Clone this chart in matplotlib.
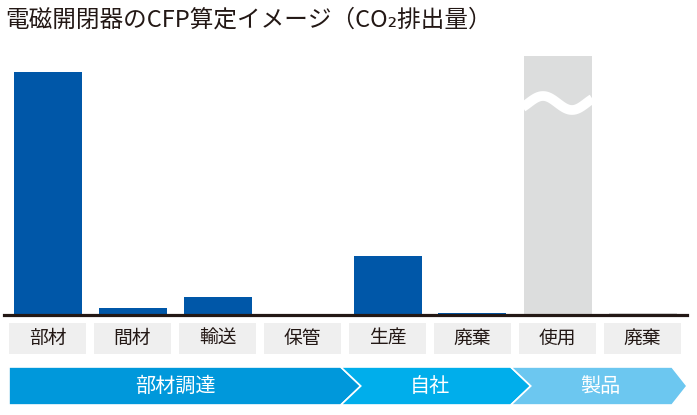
import matplotlib
matplotlib.use("Agg")
import matplotlib.pyplot as plt
from matplotlib.patches import Rectangle, Polygon
import numpy as np

plt.rcParams['font.family'] = ['Noto Sans CJK JP', 'DejaVu Sans']

# data (部材 = 100)
stages = ["部材", "間材", "輸送", "保管", "生産", "廃棄", "使用", "廃棄"]
values = [100, 2.9, 7.4, 0, 24.3, 0.9, 400, 0.9]   # 使用 is off the scale (broken bar)
bar_colors = ["#0057a8"] * 6 + ["#dcdddd", "#dcdddd"]
groups = ["部材調達", "自社", "製品"]
group_ranges = [(0, 3), (4, 5), (6, 7)]
group_colors = ["#0098db", "#00aeeb", "#6cc7f0"]
y_top = 106.6

W, H = 697, 415
fig = plt.figure(figsize=(W / 100, H / 100), dpi=100)

xl = ((4 - 47.5) / 85, (687 - 47.5) / 85)
x = np.arange(len(stages))


def px_axes(x0, y0, x1, y1):
    return fig.add_axes([x0 / W, 1 - y1 / H, (x1 - x0) / W, (y1 - y0) / H])


# bars
ax = px_axes(4, 56, 687, 315)
ax.bar(x, values, width=0.8, color=bar_colors, zorder=2)
ax.set_xlim(*xl)
ax.set_ylim(0, y_top)
ax.axhline(0, color="#231815", lw=2.3, zorder=3, clip_on=False)
ax.axis("off")

# wave break on the 使用 bar
i_use = stages.index("使用")
wx = np.linspace(i_use - 0.41, i_use + 0.41, 100)
wpx = 47.5 + 85 * wx
wy_px = 103 + 7 * np.cos(np.pi * (wpx - 572) / 29)
wy = (315 - wy_px) / (315 - 56) * y_top
ax.plot(wx, wy, color="white", lw=7, solid_capstyle="butt", zorder=4)

# stage labels
lax = px_axes(4, 323, 687, 354)
lax.set_xlim(*xl)
lax.set_ylim(0, 1)
lax.axis("off")
for i, s in enumerate(stages):
    lax.add_patch(Rectangle((i - 0.453, 0), 0.906, 1, color="#efefef", lw=0))
    lax.text(i, 0.5, s, ha="center", va="center", fontsize=13.5, color="#231815")

# process arrows
aax = px_axes(4, 367, 687, 405)
aax.set_xlim(*xl)
aax.set_ylim(0, 1)
aax.axis("off")
for k, (g, (a, b)) in enumerate(zip(groups, group_ranges)):
    if k == 0:
        left = [(-0.453, 1), (-0.453, 0)]
    else:
        pa = a - 0.5 - 0.05
        left = [(pa, 1), (pa + 0.235, 0.5), (pa, 0)]
    if k == len(groups) - 1:
        right = [(b + 0.347, 0), (b + 0.524, 0.5), (b + 0.347, 1)]
    else:
        pb = b + 0.5 - 0.05
        right = [(pb, 0), (pb + 0.235, 0.5), (pb, 1)]
    aax.add_patch(Polygon(left + right, closed=True, facecolor=group_colors[k],
                          edgecolor="white", lw=1.2))
    cx = (a + b) / 2
    aax.text(cx, 0.5, g, ha="center", va="center", fontsize=14.5, color="white")

fig.text(5 / W, 1 - 20 / H, "電磁開閉器のCFP算定イメージ（CO₂排出量）", ha="left",
         va="center", fontsize=17, color="#231815")

fig.savefig("out.png", dpi=100)
